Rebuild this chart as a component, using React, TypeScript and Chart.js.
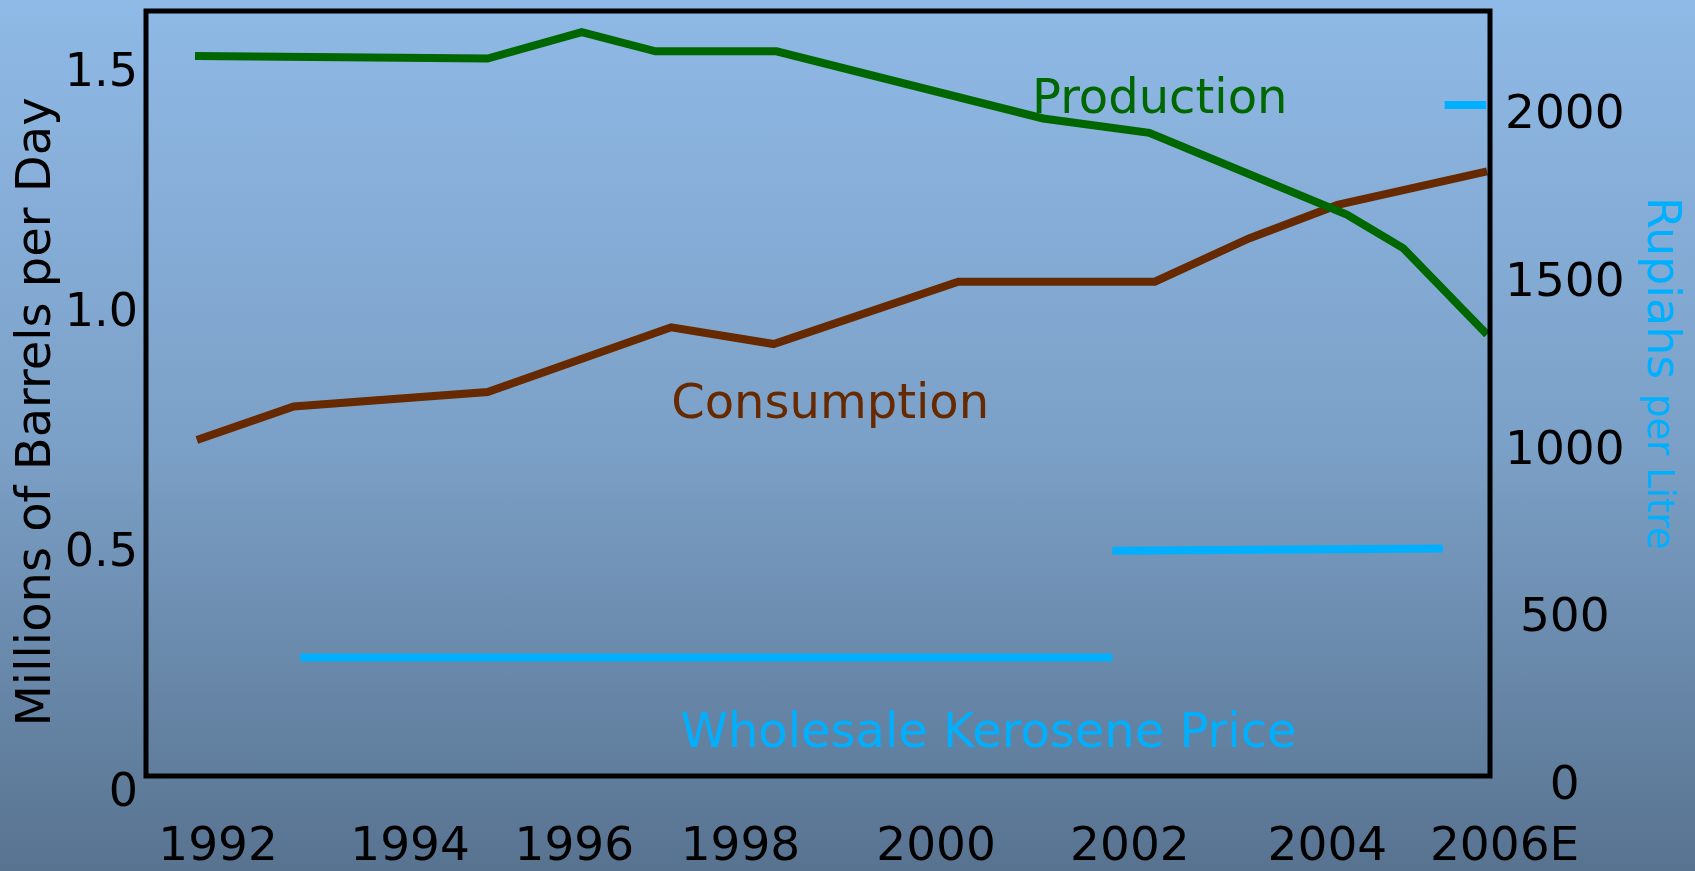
import React, { useEffect, useRef } from "react";
import { Chart, registerables } from "chart.js";

Chart.register(...registerables);

// ---- data ----
const prodYears = [1992.0, 1995.17, 1996.19, 1996.99, 1998.3, 2001.19, 2002.34, 2004.48, 2005.09, 2006.0];
const prodValues = [1.5, 1.495, 1.55, 1.51, 1.51, 1.37, 1.34, 1.17, 1.1, 0.92];

const consYears = [1992.02, 1993.07, 1995.17, 1997.16, 1998.27, 2000.27, 2002.4, 2003.42, 2004.38, 2006.0];
const consValues = [0.7, 0.77, 0.8, 0.935, 0.9, 1.03, 1.03, 1.12, 1.19, 1.26];

const keroStartYears = [1993.14, 2001.94, 2005.54];
const keroEndYears = [2001.94, 2005.52, 2005.99];
const keroStartPrices = [353, 671, 2000];
const keroEndPrices = [353, 678, 2000];

// year labels sit at slightly irregular places in the picture
const xTickPositions = [1992.25, 1994.33, 1996.11, 1997.91, 2000.03, 2002.13, 2004.27, 2006.19];
const xTickLabels = ["1992", "1994", "1996", "1998", "2000", "2002", "2004", "2006E"];
const leftTicks = [0, 0.5, 1.0, 1.5];
const leftTickLabels = ["0", "0.5", "1.0", "1.5"];
const rightTicks = [0, 500, 1000, 1500, 2000];
const rightTickLabels = ["0", "500", "1000", "1500", "2000"];

const leftTitle = "Millions of Barrels per Day";
const rightTitleMain = "Rupiahs";
const rightTitleRest = "per Litre";

// in-chart labels
const annoTexts = ["Production", "Consumption", "Wholesale Kerosene Price"];
const annoYears = [2001.07, 1997.16, 1997.26];
const annoValues = [1.382, 0.746, 87];
const annoAxes = ["y", "y", "y1"];

const GREEN = "#006600";
const BROWN = "#662900";
const CYAN = "#00b0ff";
const FONT = "'DejaVu Sans', sans-serif";

export default function App() {
  const ref = useRef<HTMLCanvasElement | null>(null);

  useEffect(() => {
    const canvas = ref.current;
    if (!canvas) return;

    const keroData: any[] = [];
    keroStartYears.forEach((s, i) => {
      if (i > 0) keroData.push({ x: s, y: null });
      keroData.push({ x: s, y: keroStartPrices[i] });
      keroData.push({ x: keroEndYears[i], y: keroEndPrices[i] });
    });

    const noPad = (s: any) => {
      s.paddingTop = 0;
      s.paddingBottom = 0;
      s.paddingLeft = 0;
      s.paddingRight = 0;
    };

    const decor = {
      id: "decor",
      afterDatasetsDraw(chart: any) {
        const { ctx, chartArea } = chart;
        ctx.save();
        ctx.strokeStyle = "#000";
        ctx.lineWidth = 5;
        ctx.strokeRect(chartArea.left, chartArea.top, chartArea.right - chartArea.left, chartArea.bottom - chartArea.top);
        ctx.restore();
      },
      afterDraw(chart: any) {
        const { ctx, scales } = chart;
        ctx.save();
        ctx.font = `48px ${FONT}`;
        ctx.textAlign = "left";
        ctx.textBaseline = "alphabetic";
        const colors = [GREEN, BROWN, CYAN];
        annoTexts.forEach((t, i) => {
          const x = scales.x.getPixelForValue(annoYears[i]);
          const y = scales[annoAxes[i]].getPixelForValue(annoValues[i]);
          ctx.fillStyle = colors[i];
          ctx.fillText(t, x, y);
        });
        // left title
        ctx.save();
        ctx.translate(50, 412);
        ctx.rotate(-Math.PI / 2);
        ctx.textAlign = "center";
        ctx.fillStyle = "#000";
        ctx.font = `48px ${FONT}`;
        ctx.fillText(leftTitle, 0, 0);
        ctx.restore();
        // right title
        ctx.save();
        ctx.translate(1648, 197);
        ctx.rotate(Math.PI / 2);
        ctx.textAlign = "left";
        ctx.fillStyle = CYAN;
        ctx.font = `46px ${FONT}`;
        ctx.fillText(rightTitleMain, 0, 0);
        const w = ctx.measureText(rightTitleMain + " ").width;
        ctx.font = `37px ${FONT}`;
        ctx.fillText(rightTitleRest, w, 0);
        ctx.restore();
        ctx.restore();
      },
    };

    const lineStyle = {
      borderWidth: 8,
      pointRadius: 0,
      tension: 0,
      borderJoinStyle: "miter",
      borderCapStyle: "butt",
    };

    const chart = new Chart(canvas, {
      type: "line",
      data: {
        datasets: [
          {
            label: "Production",
            data: prodYears.map((x, i) => ({ x, y: prodValues[i] })),
            borderColor: GREEN,
            backgroundColor: GREEN,
            yAxisID: "y",
            ...lineStyle,
          },
          {
            label: "Consumption",
            data: consYears.map((x, i) => ({ x, y: consValues[i] })),
            borderColor: BROWN,
            backgroundColor: BROWN,
            yAxisID: "y",
            ...lineStyle,
          },
          {
            label: "Wholesale Kerosene Price",
            data: keroData,
            borderColor: CYAN,
            backgroundColor: CYAN,
            spanGaps: false,
            yAxisID: "y1",
            ...lineStyle,
          },
        ],
      },
      options: {
        responsive: false,
        maintainAspectRatio: false,
        devicePixelRatio: 1,
        animation: false,
        layout: { padding: { top: 11, left: 0, right: 0, bottom: 0 } },
        plugins: { legend: { display: false }, tooltip: { enabled: false } },
        scales: {
          x: {
            type: "linear",
            position: "bottom",
            min: 1991.469,
            max: 2006.032,
            grid: { display: false, drawTicks: false },
            border: { display: false },
            afterBuildTicks: (s: any) => {
              s.ticks = xTickPositions.map((v) => ({ value: v }));
            },
            afterFit: (s: any) => {
              s.height = 95;
              noPad(s);
            },
            ticks: {
              autoSkip: false,
              maxRotation: 0,
              minRotation: 0,
              padding: 44,
              color: "#000",
              font: { family: FONT, size: 47 },
              callback: (v: any) => {
                const i = xTickPositions.indexOf(Number(v));
                return i >= 0 ? xTickLabels[i] : "";
              },
            },
          },
          y: {
            type: "linear",
            position: "left",
            min: 0,
            max: 1.594,
            grid: { display: false, drawTicks: false },
            border: { display: false },
            afterBuildTicks: (s: any) => {
              s.ticks = leftTicks.map((v) => ({ value: v }));
            },
            afterFit: (s: any) => {
              s.width = 146;
              noPad(s);
            },
            ticks: {
              padding: 8,
              labelOffset: 18,
              color: "#000",
              font: { family: FONT, size: 46 },
              callback: (v: any) => {
                const i = leftTicks.indexOf(Number(v));
                return i >= 0 ? leftTickLabels[i] : "";
              },
            },
          },
          y1: {
            type: "linear",
            position: "right",
            min: 0,
            max: 2280,
            grid: { display: false, drawTicks: false },
            border: { display: false },
            afterBuildTicks: (s: any) => {
              s.ticks = rightTicks.map((v) => ({ value: v }));
            },
            afterFit: (s: any) => {
              s.width = 205;
              noPad(s);
            },
            ticks: {
              padding: 15,
              labelOffset: 11,
              crossAlign: "center",
              color: "#000",
              font: { family: FONT, size: 47 },
              callback: (v: any) => {
                const i = rightTicks.indexOf(Number(v));
                return i >= 0 ? rightTickLabels[i] : "";
              },
            },
          },
        },
      },
      plugins: [decor],
    } as any);

    return () => chart.destroy();
  }, []);

  return (
    <div
      style={{
        position: "fixed",
        left: 0,
        top: 0,
        width: 1695,
        height: 871,
        background: "linear-gradient(to bottom, #8fb9e6 0%, #7ca1c8 50%, #587390 100%)",
      }}
    >
      <canvas ref={ref} width={1695} height={871} style={{ display: "block", width: 1695, height: 871 }} />
    </div>
  );
}
